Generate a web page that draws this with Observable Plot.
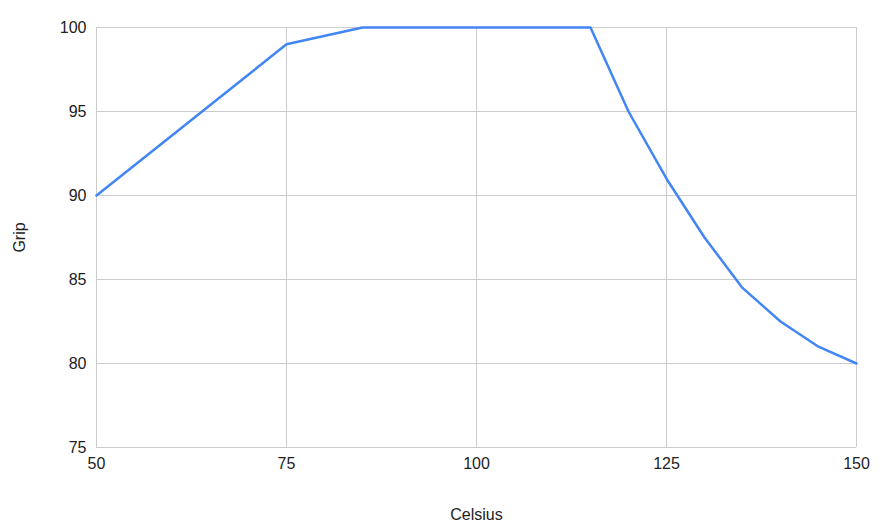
<!DOCTYPE html>
<html>
<head>
<meta charset="utf-8">
<script src="https://cdn.jsdelivr.net/npm/d3@7"></script>
<script src="https://cdn.jsdelivr.net/npm/@observablehq/plot@0.6"></script>
<style>
  html, body { margin: 0; padding: 0; background: #fff; }
  #chart svg { display: block; }
</style>
</head>
<body>
<div id="chart"></div>
<script>
const celsius = [50, 75, 85, 115, 120, 125, 130, 135, 140, 145, 150];
const grip    = [90, 99, 100, 100, 95, 91, 87.5, 84.5, 82.5, 81, 80];
const xTicks = [50, 75, 100, 125, 150];
const yTicks = [75, 80, 85, 90, 95, 100];

const data = celsius.map((c, i) => ({celsius: c, grip: grip[i]}));

const chart = Plot.plot({
  width: 879,
  height: 529,
  marginLeft: 96,
  marginRight: 23,
  marginTop: 27,
  marginBottom: 82,
  style: {fontFamily: "'Liberation Sans', Arial, sans-serif", fontSize: "16px", color: "#222", background: "#fff"},
  x: {domain: [50, 150]},
  y: {domain: [75, 100]},
  marks: [
    Plot.gridX(xTicks, {stroke: "#cccccc", strokeOpacity: 1, strokeWidth: 1}),
    Plot.gridY(yTicks, {stroke: "#cccccc", strokeOpacity: 1, strokeWidth: 1}),
    Plot.axisX(xTicks, {tickSize: 0, tickPadding: 10, fontSize: 16, fill: "#222", label: "Celsius", labelAnchor: "center", labelOffset: 72, labelArrow: "none"}),
    Plot.axisY(yTicks, {tickSize: 0, tickPadding: 10, fontSize: 16, fill: "#222", label: "Grip", labelAnchor: "center", labelOffset: 83, labelArrow: "none"}),
    Plot.line(data, {x: "celsius", y: "grip", stroke: "#4285F4", strokeWidth: 2.5, strokeLinejoin: "round"})
  ]
});
document.getElementById("chart").appendChild(chart);
</script>
</body>
</html>
